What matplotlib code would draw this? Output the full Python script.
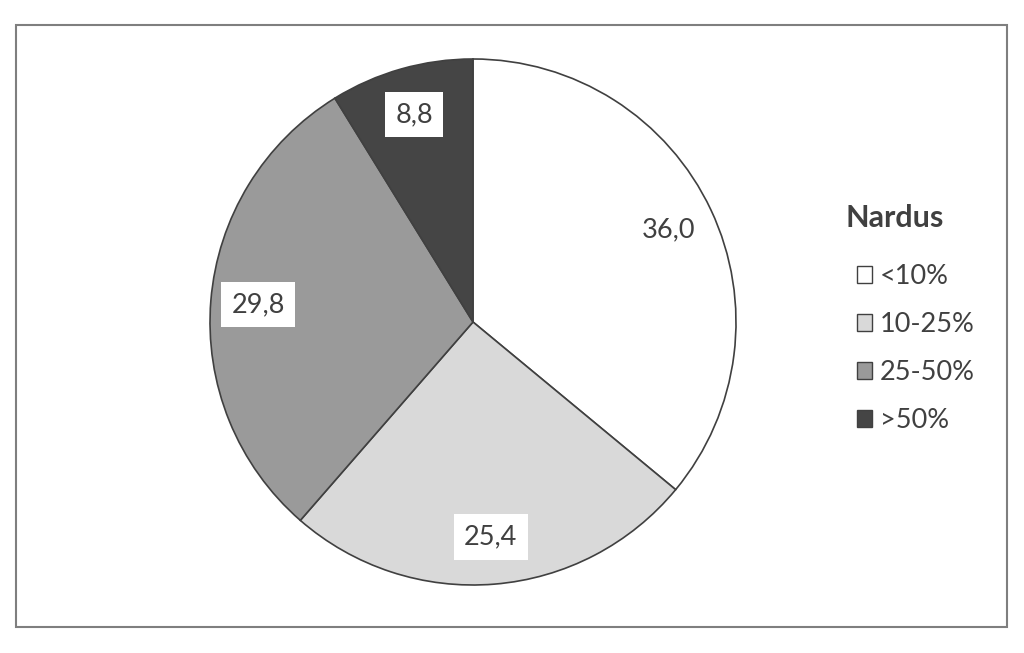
import matplotlib
matplotlib.use("Agg")
import matplotlib.pyplot as plt
from matplotlib.patches import Rectangle

plt.rcParams['font.family'] = ['Lato', 'DejaVu Sans']

categories = ['<10%', '10-25%', '25-50%', '>50%']
values = [36.0, 25.4, 29.8, 8.8]
colors = ['#ffffff', '#d9d9d9', '#9a9a9a', '#454545']
legend_title = 'Nardus'
text_color = '#404040'

W, H = 1024, 653
fig = plt.figure(figsize=(W / 100, H / 100), dpi=100)
fig.patch.set_facecolor('white')

# outer frame
fig.patches.append(Rectangle((16 / W, 1 - 627 / H), (1007 - 16) / W, (627 - 25) / H,
                             transform=fig.transFigure, fill=False,
                             edgecolor='#7f7f7f', linewidth=1.5))

cx, cy, r = 473, 322, 263
ax = fig.add_axes([(cx - r) / W, (H - cy - r) / H, 2 * r / W, 2 * r / H])
labels = [f"{v:.1f}".replace('.', ',') for v in values]
wedges, texts = ax.pie(values, colors=colors, startangle=90, counterclock=False,
                       labels=labels, labeldistance=0.82,
                       wedgeprops=dict(edgecolor='#404040', linewidth=1.2),
                       textprops=dict(fontsize=19.5, color=text_color))
for t in texts:
    t.set_ha('center')
    t.set_va('center')
    t.set_bbox(dict(facecolor='white', edgecolor='none', boxstyle='square,pad=0.38'))
ax.set_xlim(-1, 1)
ax.set_ylim(-1, 1)
ax.set_aspect('equal')

fig.text(845 / W, 1 - 218 / H, legend_title, ha='left', va='center',
         fontsize=22, fontweight='bold', color=text_color)

leg = fig.legend(wedges, categories, loc='upper left',
                 bbox_to_anchor=(857 / W, 1 - 264 / H), frameon=False,
                 fontsize=19.5, labelcolor=text_color,
                 borderaxespad=0, borderpad=0,
                 handlelength=0.55, handleheight=0.55, handletextpad=0.3,
                 labelspacing=0.85)
for h in leg.legend_handles:
    h.set_edgecolor('#404040')
    h.set_linewidth(1.0)

fig.savefig('out.png', dpi=100, facecolor='white')
